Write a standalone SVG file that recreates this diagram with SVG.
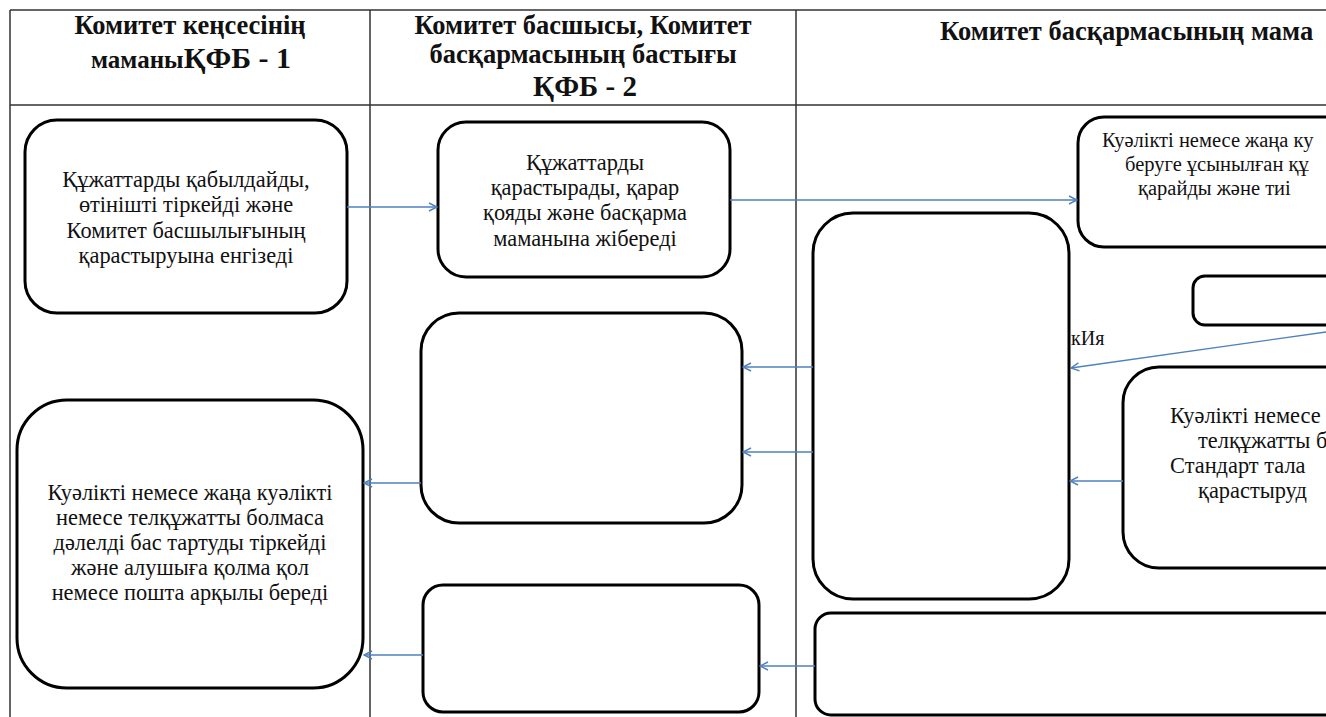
<svg xmlns="http://www.w3.org/2000/svg" width="1326" height="717" viewBox="0 0 1326 717">
<style>
.hdr{font-family:"Liberation Serif","Times New Roman",serif;font-weight:bold;font-size:26.5px;fill:#111;text-anchor:middle}
.big{font-size:29px}
.txt{font-family:"Liberation Serif","Times New Roman",serif;font-size:22.4px;fill:#111;text-anchor:middle}
.sm{font-size:20.5px}
.st{text-anchor:start}
.box{fill:#fff;stroke:#000;stroke-width:3}
.grid{fill:none;stroke:#333;stroke-width:1.5}
.con{fill:none;stroke:#4F81BD;stroke-width:1.4}
</style>
<defs>
<marker id="arr" markerWidth="10" markerHeight="10" refX="9" refY="5" orient="auto" markerUnits="userSpaceOnUse">
<path d="M1,1 L9,5 L1,9" fill="none" stroke="#4F81BD" stroke-width="1.4"/>
</marker>
</defs>
<rect width="1326" height="717" fill="#fff"/>
<g id="table">
<path class="grid" d="M10,10 H1330 M10,105 H1330 M10,10 V720 M370,10 V720 M796,10 V720"/>
</g>
<g id="headers">
<text class="hdr" x="190" y="34">Комитет кеңсесінің</text>
<text class="hdr" x="191" y="68"><tspan style="font-size:25px">маманы</tspan><tspan style="font-size:30px">ҚФБ - 1</tspan></text>
<text class="hdr" x="583" y="34">Комитет басшысы, Комитет</text>
<text class="hdr" x="583" y="63">басқармасының бастығы</text>
<text class="hdr" x="585" y="96"><tspan class="big">ҚФБ - 2</tspan></text>
<text class="hdr st" x="940" y="40">Комитет басқармасының мама</text>
</g>
<g id="n1">
<rect class="box" x="25" y="120" width="322" height="193" rx="32"/>
<text class="txt" x="186" y="187">Құжаттарды қабылдайды,</text>
<text class="txt" x="186" y="212">өтінішті тіркейді және</text>
<text class="txt" x="186" y="238">Комитет басшылығының</text>
<text class="txt" x="186" y="263">қарастыруына енгізеді</text>
</g>
<g id="n2">
<rect class="box" x="438" y="122" width="292" height="155" rx="28"/>
<text class="txt" x="585" y="170">Құжаттарды</text>
<text class="txt" x="585" y="195">қарастырады, қарар</text>
<text class="txt" x="585" y="220">қояды және басқарма</text>
<text class="txt" x="585" y="246">маманына жібереді</text>
</g>
<g id="n3">
<rect class="box" x="1078" y="117" width="280" height="130" rx="26"/>
<text class="txt st sm" x="1102" y="147">Куәлікті немесе жаңа ку</text>
<text class="txt st sm" x="1125" y="171">беруге ұсынылған құ</text>
<text class="txt st sm" x="1138" y="195">қарайды және тиі</text>
</g>
<g id="n4">
<rect class="box" x="813" y="213" width="256" height="386" rx="40"/>
</g>
<g id="n5">
<rect class="box" x="1193" y="276" width="160" height="49" rx="12"/>
</g>
<g id="n6">
<rect class="box" x="1123" y="367" width="240" height="201" rx="36"/>
<text class="txt st" x="1170" y="423">Куәлікті немесе</text>
<text class="txt st" x="1198" y="448">телқұжатты б</text>
<text class="txt st" x="1170" y="473">Стандарт тала</text>
<text class="txt st" x="1198" y="498">қарастыруд</text>
</g>
<g id="n7">
<rect class="box" x="815" y="613" width="540" height="102" rx="16"/>
</g>
<g id="n8">
<rect class="box" x="423" y="585" width="336" height="127" rx="20"/>
</g>
<g id="n9">
<rect class="box" x="421" y="313" width="321" height="210" rx="38"/>
</g>
<g id="n10">
<rect class="box" x="17" y="400" width="346" height="288" rx="50"/>
<text class="txt" x="190" y="500">Куәлікті немесе жаңа куәлікті</text>
<text class="txt" x="190" y="525">немесе телқұжатты болмаса</text>
<text class="txt" x="190" y="550">дәлелді бас тартуды тіркейді</text>
<text class="txt" x="190" y="575">және алушыға қолма қол</text>
<text class="txt" x="190" y="600">немесе пошта арқылы береді</text>
</g>
<g id="label">
<text class="txt st" x="1071" y="345" style="font-size:20px">кИя</text>
</g>
<g id="connectors">
<path class="con" marker-end="url(#arr)" d="M347,207 H437"/>
<path class="con" marker-end="url(#arr)" d="M730,200 H1077"/>
<path class="con" marker-end="url(#arr)" d="M1326,332 L1071,368"/>
<path class="con" marker-end="url(#arr)" d="M1123,481 H1070"/>
<path class="con" marker-end="url(#arr)" d="M813,367 H743"/>
<path class="con" marker-end="url(#arr)" d="M813,452 H743"/>
<path class="con" marker-end="url(#arr)" d="M815,666 H760"/>
<path class="con" marker-end="url(#arr)" d="M421,483 H364"/>
<path class="con" marker-end="url(#arr)" d="M423,655 H364"/>
</g>
</svg>
